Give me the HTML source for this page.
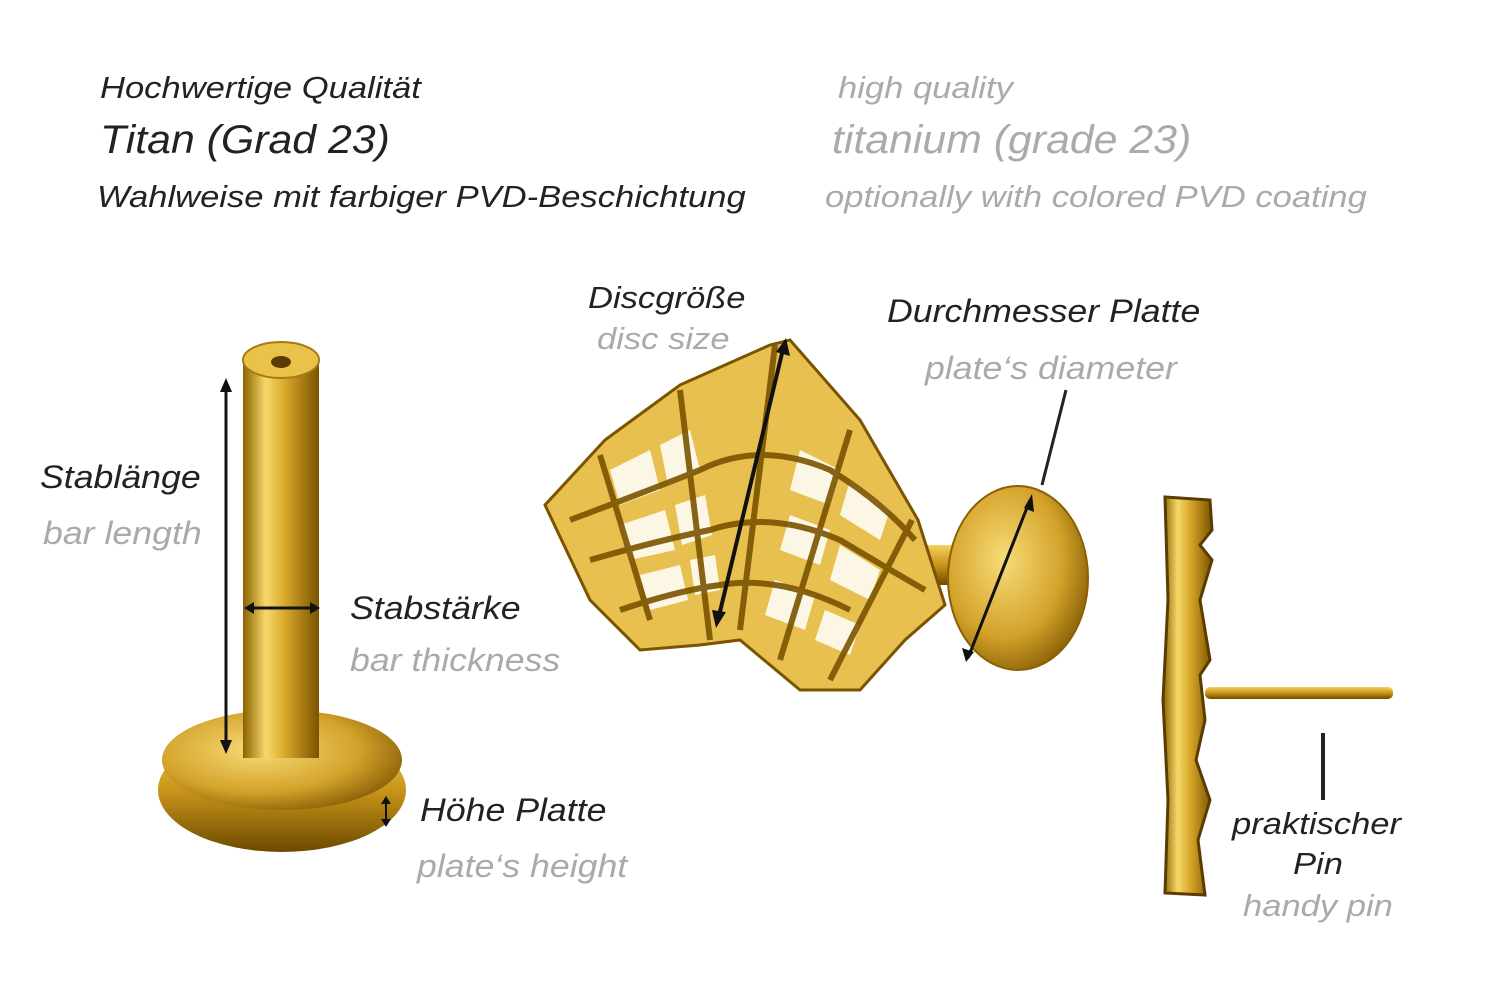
<!DOCTYPE html>
<html><head><meta charset="utf-8">
<style>
html,body{margin:0;padding:0;background:#fff;}
#c{position:relative;width:1500px;height:1001px;overflow:hidden;font-family:"Liberation Sans","DejaVu Sans",sans-serif;font-style:italic;}
.t{position:absolute;white-space:nowrap;line-height:1;transform-origin:0 0;transform:scaleX(1.115);}
.b{transform:scaleX(1.07);}
.k{color:#222;}
.g{color:#aaa;}
svg{position:absolute;left:0;top:0;}
</style></head><body><div id="c">
<svg width="1500" height="1001" viewBox="0 0 1500 1001">
<defs>
<linearGradient id="gv" x1="0" x2="1" y1="0" y2="0">
<stop offset="0" stop-color="#8a6200"/><stop offset="0.3" stop-color="#f6d96a"/><stop offset="0.55" stop-color="#d9a82a"/><stop offset="1" stop-color="#7a5300"/></linearGradient>
<linearGradient id="gd" x1="0" x2="0" y1="0" y2="1">
<stop offset="0" stop-color="#f3d060"/><stop offset="0.5" stop-color="#c99519"/><stop offset="1" stop-color="#6e4a00"/></linearGradient>
<radialGradient id="gr" cx="0.4" cy="0.4" r="0.7">
<stop offset="0" stop-color="#f7dc78"/><stop offset="0.6" stop-color="#d4a22a"/><stop offset="1" stop-color="#7a5400"/></radialGradient>
</defs>
<ellipse cx="282" cy="790" rx="124" ry="62" fill="url(#gd)"/>
<ellipse cx="282" cy="760" rx="120" ry="50" fill="url(#gr)"/>
<rect x="243" y="358" width="76" height="400" fill="url(#gv)"/>
<ellipse cx="281" cy="360" rx="38" ry="18" fill="#e9c24a" stroke="#a67a10" stroke-width="2"/>
<ellipse cx="281" cy="362" rx="10" ry="6" fill="#5a3b00"/>
<line x1="226" y1="382" x2="226" y2="750" stroke="#111" stroke-width="3"/>
<path d="M220 392 L226 378 L232 392Z M220 740 L226 754 L232 740Z" fill="#111"/>
<line x1="247" y1="608" x2="317" y2="608" stroke="#111" stroke-width="3"/>
<path d="M254 602 L244 608 L254 614Z M310 602 L320 608 L310 614Z" fill="#111"/>
<line x1="386" y1="798" x2="386" y2="825" stroke="#111" stroke-width="2"/>
<path d="M381 804 L386 796 L391 804Z M381 819 L386 827 L391 819Z" fill="#111"/>
<rect x="900" y="545" width="60" height="40" fill="url(#gd)"/>
<ellipse cx="1018" cy="578" rx="70" ry="92" fill="url(#gr)" stroke="#8a6000" stroke-width="2"/>
<path d="M545 505 L605 440 L680 385 L770 345 L790 340 L860 420 L918 520 L945 605 L905 640 L860 690 L800 690 L740 640 L700 645 L640 650 L590 600 Z" fill="#e8c050" stroke="#7a5400" stroke-width="3"/>
<g fill="#fff" opacity="0.85">
<path d="M610 470 L650 450 L660 490 L620 505Z M660 445 L690 430 L700 470 L668 485Z M620 525 L665 510 L675 550 L630 560Z M675 505 L705 495 L712 535 L682 545Z M640 575 L680 565 L688 600 L650 610Z M690 560 L715 555 L720 590 L695 595Z"/>
<path d="M800 450 L840 470 L830 505 L790 490Z M850 480 L890 510 L880 540 L840 515Z M790 515 L830 530 L820 565 L780 550Z M840 545 L880 570 L870 600 L830 580Z M775 580 L815 595 L805 630 L765 615Z M825 610 L860 625 L850 655 L815 640Z"/>
</g>
<g stroke="#7a5400" stroke-width="6" fill="none" opacity="0.9">
<path d="M600 455 L650 620 M680 390 L710 640 M775 345 L740 630 M850 430 L780 660 M912 520 L830 680"/>
<path d="M570 520 Q650 490 700 470 Q760 440 830 470 Q880 500 915 540"/>
<path d="M590 560 Q660 540 710 530 Q770 510 840 540 Q890 570 925 590"/>
<path d="M620 610 Q680 590 720 585 Q780 575 850 610"/>
</g>
<line x1="718" y1="620" x2="784" y2="345" stroke="#111" stroke-width="4"/>
<path d="M712 610 L716 628 L726 612Z M776 352 L786 338 L790 356Z" fill="#111"/>
<line x1="968" y1="658" x2="1030" y2="500" stroke="#111" stroke-width="3"/>
<path d="M962 648 L966 662 L974 652Z M1024 508 L1032 494 L1034 512Z" fill="#111"/>
<line x1="1066" y1="390" x2="1042" y2="485" stroke="#222" stroke-width="3"/>
<rect x="1205" y="687" width="188" height="12" rx="5" fill="url(#gd)"/>
<path d="M1165 497 L1210 500 L1212 530 L1200 545 L1212 560 L1200 600 L1210 660 L1200 675 L1205 720 L1196 760 L1210 800 L1198 840 L1205 895 L1165 893 L1168 800 L1163 700 L1168 600 Z" fill="url(#gv)" stroke="#5a3b00" stroke-width="3"/>
<line x1="1323" y1="733" x2="1323" y2="800" stroke="#222" stroke-width="4"/>
</svg>
<div class="t k" style="left:100px;top:72px;font-size:31px">Hochwertige Qualität</div>
<div class="t k b" style="left:100px;top:120px;font-size:40px">Titan (Grad 23)</div>
<div class="t k" style="left:97px;top:181px;font-size:31px">Wahlweise mit farbiger PVD-Beschichtung</div>
<div class="t g" style="left:838px;top:72px;font-size:31px">high quality</div>
<div class="t g b" style="left:832px;top:120px;font-size:40px">titanium (grade 23)</div>
<div class="t g" style="left:825px;top:181px;font-size:31px">optionally with colored PVD coating</div>
<div class="t k" style="left:40px;top:461px;font-size:32px">Stablänge</div>
<div class="t g" style="left:43px;top:517px;font-size:32px">bar length</div>
<div class="t k" style="left:350px;top:592px;font-size:32px">Stabstärke</div>
<div class="t g" style="left:350px;top:644px;font-size:32px">bar thickness</div>
<div class="t k" style="left:420px;top:794px;font-size:32px">Höhe Platte</div>
<div class="t g" style="left:417px;top:850px;font-size:32px">plate‘s height</div>
<div class="t k" style="left:588px;top:282px;font-size:31px">Discgröße</div>
<div class="t g" style="left:597px;top:323px;font-size:31px">disc size</div>
<div class="t k" style="left:887px;top:295px;font-size:32px">Durchmesser Platte</div>
<div class="t g" style="left:925px;top:352px;font-size:32px">plate‘s diameter</div>
<div class="t k" style="left:1232px;top:808px;font-size:31px">praktischer</div>
<div class="t k" style="left:1293px;top:848px;font-size:31px">Pin</div>
<div class="t g" style="left:1243px;top:890px;font-size:31px">handy pin</div>
</div></body></html>
